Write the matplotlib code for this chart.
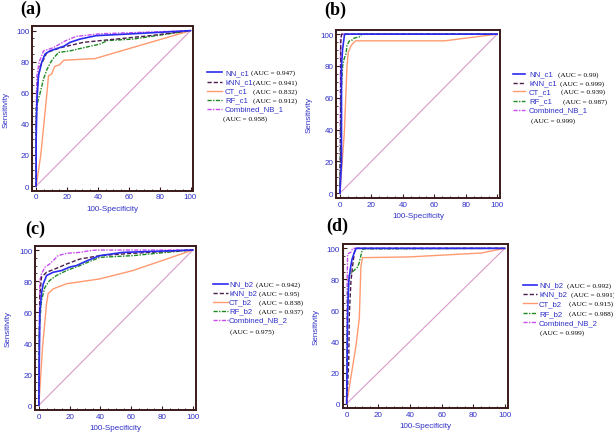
import matplotlib
matplotlib.use("Agg")
import matplotlib.pyplot as plt
from matplotlib.lines import Line2D
from matplotlib.ticker import MultipleLocator

W, H = 614, 435

# ---- panel (a) ----
A_NN_X = [0, 0, 0.5, 1.5, 3.7, 5.8, 9, 18, 22, 28.5, 39, 63, 100]
A_NN_Y = [0, 30, 55, 71, 80, 85, 87, 90, 92.5, 94.6, 96.8, 98, 100]
A_KNN_X = [0, 0, 1, 2.6, 7, 15.6, 30.7, 52, 74, 100]
A_KNN_Y = [0, 40, 67, 77, 86, 89, 92.5, 94.6, 96.8, 100]
A_CT_X = [0, 3, 5, 7, 8, 10, 12, 15, 18, 38, 100]
A_CT_Y = [0, 20, 40, 60, 71, 72, 77, 78, 81, 82, 100]
A_RF_X = [0, 0, 1.5, 2.6, 4.8, 7, 9, 11, 14.5, 22, 30.7, 41.5, 46, 63, 78, 100]
A_RF_Y = [0, 50, 56, 60, 69, 75, 79, 82, 86, 87, 89, 91.4, 93.6, 94.6, 96.8, 100]
A_CB_X = [0, 0, 0.5, 2, 4.8, 11, 19, 26, 41.5, 100]
A_CB_Y = [0, 50, 71, 80, 87, 89, 93.5, 96.3, 98, 100]

# ---- panel (b) ----
B_NN_X = [0, 1, 1, 1.7, 2.8, 3, 100]
B_NN_Y = [0, 20, 80, 90.6, 99, 100, 100]
B_KNN_X = [0, 0.5, 0.5, 1, 100]
B_KNN_Y = [0, 30, 95, 100, 100]
B_CT_X = [0, 2.8, 4.5, 5.3, 7, 9, 10, 66.6, 100]
B_CT_Y = [0, 38, 80, 88.5, 92.7, 95, 95.8, 95.8, 100]
B_RF_X = [0, 0.6, 1.7, 2.8, 3.8, 4.5, 6, 8, 9, 11, 12.3, 14, 100]
B_RF_Y = [0, 59, 80, 85, 87.4, 92.7, 95.8, 96.4, 97.5, 98, 98.3, 100, 100]
B_CB_X = [0, 0.2, 0.4, 1.5, 100]
B_CB_Y = [0, 40, 97, 100, 100]

# ---- panel (c) ----
C_NN_X = [0, 0.6, 1.7, 2.8, 5, 9.3, 14.7, 20, 24.4, 26.6, 31, 39.5, 54.6, 100]
C_NN_Y = [0, 59, 72, 78, 83.6, 85.7, 86.8, 89, 90, 91, 93, 96.4, 98.5, 100]
C_KNN_X = [0, 0.6, 1.7, 5, 10.4, 18, 26.6, 39.5, 61, 100]
C_KNN_Y = [0, 70, 82.5, 85.7, 87.8, 91, 94.2, 96.4, 97.9, 100]
C_CT_X = [0, 2.4, 5, 6, 9.3, 18, 39.5, 61, 100]
C_CT_Y = [0, 37.7, 65.5, 71.9, 75, 78.3, 81.4, 86.8, 100]
C_RF_X = [0, 0.2, 1.7, 3.9, 7, 11.4, 18, 26.6, 39.5, 61, 82.7, 100]
C_RF_Y = [0, 48, 67.6, 76, 80.4, 83.6, 86.8, 90, 95.3, 96.4, 98.5, 100]
C_CB_X = [0, 0.6, 1.7, 3.9, 7, 9.3, 12.5, 18, 26.6, 33, 37.4, 100]
C_CB_Y = [0, 80, 84.6, 88.9, 91, 93.2, 96.4, 97.9, 98.5, 99.6, 100, 100]

# ---- panel (d) ----
D_NN_X = [0, 0.6, 1.3, 2.1, 2.7, 3.4, 4.9, 6, 100]
D_NN_Y = [0, 57.7, 78.6, 85, 89, 93, 97.5, 100, 100]
D_KNN_X = [0, 1.3, 1.7, 2.7, 3.8, 4.9, 6, 100]
D_KNN_Y = [0, 26, 57.7, 78.6, 89, 97.5, 100, 100]
D_CT_X = [0, 6, 8, 9, 10, 40, 85, 100]
D_CT_Y = [0, 38, 55, 88, 94, 94.5, 97, 100]
D_RF_X = [0, 0.6, 1.7, 2.7, 6, 7, 8, 9, 10, 100]
D_RF_Y = [0, 68, 82.8, 84, 87, 88, 91, 95.4, 99.6, 100]
D_CB_X = [0, 0.3, 0.6, 2.7, 3.8, 100]
D_CB_Y = [0, 78.6, 96.4, 97.5, 100, 100]

REF_X = [0, 100]
REF_Y = [0, 100]

NAMES_1 = ["NN_c1", "kNN_c1", "CT_c1", "RF_c1", "Combined_NB_1"]
NAMES_2 = ["NN_b2", "kNN_b2", "CT_b2", "RF_b2", "Combined_NB_2"]
AUC_A = ["0.947", "0.941", "0.832", "0.912", "0.958"]
AUC_B = ["0.99", "0.999", "0.939", "0.987", "0.999"]
AUC_C = ["0.942", "0.95", "0.838", "0.937", "0.975"]
AUC_D = ["0.992", "0.991", "0.915", "0.988", "0.999"]

STYLES = [
    dict(color="#2b2bf0", ls="-", lw=1.2),
    dict(color="#4a1c4a", ls=(0, (3, 1.5)), lw=1.0),
    dict(color="#ff9a70", ls="-", lw=1.0),
    dict(color="#1f8a1f", ls=(0, (3, 1, 1, 1)), lw=1.0),
    dict(color="#c84cf0", ls=(0, (3, 1, 1, 1)), lw=1.0),
]
BLUE = "#3030c8"
FRAME = "#3a1a1a"

fig = plt.figure(figsize=(W / 100, H / 100), dpi=100)


def px(x, y):
    return x / W, 1 - y / H


def rect(l, t, r, b):
    return [l / W, 1 - b / H, (r - l) / W, (b - t) / H]


def draw_panel(box, curves, letter, letter_xy, leg):
    ax = fig.add_axes(box)
    ax.plot(REF_X, REF_Y, color="#d99ac8", lw=0.8)
    # reverse order so NN ends up on top
    for (xs, ys), st in reversed(list(zip(curves, STYLES))):
        ax.plot(xs, ys, **st)
    ax.set_xlim(-2.5, 101.8)
    ax.set_ylim(-3, 102.8)
    ax.xaxis.set_major_locator(MultipleLocator(20))
    ax.yaxis.set_major_locator(MultipleLocator(20))
    ax.xaxis.set_minor_locator(MultipleLocator(5))
    ax.yaxis.set_minor_locator(MultipleLocator(5))
    ax.tick_params(which="both", direction="in", color=FRAME, top=False, right=False)
    ax.tick_params(which="major", length=3, width=0.8, labelsize=5.8,
                   labelcolor=BLUE, pad=2)
    ax.tick_params(which="minor", length=1.5, width=0.6)
    for s in ax.spines.values():
        s.set_color(FRAME)
        s.set_linewidth(1.4)
    for lab in ax.get_xticklabels() + ax.get_yticklabels():
        lab.set_family("Liberation Sans")
    ax.set_xlabel("100-Specificity", fontsize=5.8, color=BLUE,
                  family="Liberation Sans", labelpad=3)
    ax.set_ylabel("Sensitivity", fontsize=5.8, color=BLUE,
                  family="Liberation Sans", labelpad=5)
    fig.text(*px(*letter_xy), "(" + letter + ")", fontsize=13, fontweight="bold",
             family="Liberation Serif", ha="center", va="center")

    lx0, lx1, tx, auc_xs, comb_x, rows, names, aucs = leg
    for i, (name, st) in enumerate(zip(names, STYLES)):
        y = rows[i]
        fig.add_artist(Line2D([lx0 / W, lx1 / W], [1 - y / H, 1 - y / H], **st))
        fig.text(*px(tx, y), name, fontsize=5.6, color=BLUE,
                 family="Liberation Sans", va="center", ha="left")
        if i < 4:
            fig.text(*px(auc_xs[i], y), "(AUC = " + aucs[i] + ")", fontsize=5.2,
                     family="Liberation Serif", va="center", ha="left")
    fig.text(*px(comb_x, rows[5]), "(AUC = " + aucs[4] + ")", fontsize=5.2,
             family="Liberation Serif", va="center", ha="left")
    return ax


draw_panel(rect(32.3, 27.3, 193.3, 191.7),
           [(A_NN_X, A_NN_Y), (A_KNN_X, A_KNN_Y), (A_CT_X, A_CT_Y),
            (A_RF_X, A_RF_Y), (A_CB_X, A_CB_Y)],
           "a", (31, 9),
           (207, 222, 225, [251, 253, 253, 253], 223,
            [73.3, 82.7, 91.7, 100.7, 110, 119.3], NAMES_1, AUC_A))

draw_panel(rect(336, 30.7, 500, 199),
           [(B_NN_X, B_NN_Y), (B_KNN_X, B_KNN_Y), (B_CT_X, B_CT_Y),
            (B_RF_X, B_RF_Y), (B_CB_X, B_CB_Y)],
           "b", (335, 10),
           (513, 525, 529, [558, 560, 561, 563], 531,
            [75, 84, 92.3, 101.7, 110.7, 120.7], NAMES_1, AUC_B))

draw_panel(rect(35, 246.7, 195.7, 411),
           [(C_NN_X, C_NN_Y), (C_KNN_X, C_KNN_Y), (C_CT_X, C_CT_Y),
            (C_RF_X, C_RF_Y), (C_CB_X, C_CB_Y)],
           "c", (35, 229),
           (213, 228, 229, [256, 259, 259, 259], 230,
            [285, 294, 302.7, 311.7, 321, 332.3], NAMES_2, AUC_C))

draw_panel(rect(342.7, 245, 507.7, 409.3),
           [(D_NN_X, D_NN_Y), (D_KNN_X, D_KNN_Y), (D_CT_X, D_CT_Y),
            (D_RF_X, D_RF_Y), (D_CB_X, D_CB_Y)],
           "d", (337, 226),
           (523, 537, 539, [567, 571, 569, 569], 540,
            [286, 295, 304.3, 314.3, 323.3, 333.3], NAMES_2, AUC_D))

fig.savefig("out.png", dpi=100, facecolor="white")
